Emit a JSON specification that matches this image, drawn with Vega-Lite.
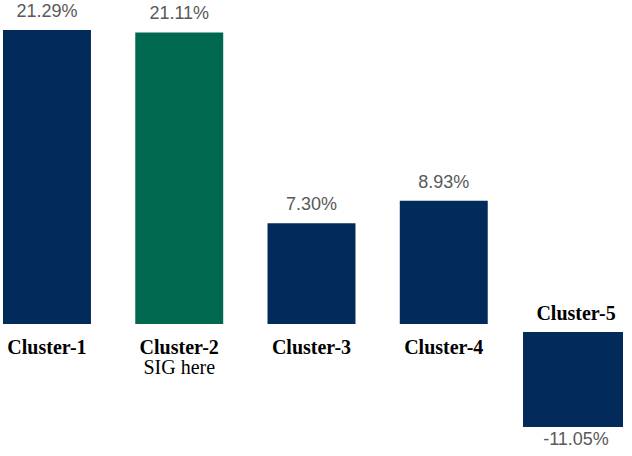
{
  "$schema": "https://vega.github.io/schema/vega-lite/v6.json",
  "width": 623,
  "height": 456,
  "autosize": "none",
  "padding": 0,
  "background": "white",
  "config": {"view": {"stroke": null}},
  "data": {
    "values": [
      {"cluster": "Cluster-1", "value": 21.29, "label": "21.29%", "note": ""},
      {"cluster": "Cluster-2", "value": 21.11, "label": "21.11%", "note": "SIG here"},
      {"cluster": "Cluster-3", "value": 7.30, "label": "7.30%", "note": ""},
      {"cluster": "Cluster-4", "value": 8.93, "label": "8.93%", "note": ""},
      {"cluster": "Cluster-5", "value": -11.05, "label": "-11.05%", "note": ""}
    ]
  },
  "encoding": {
    "x": {
      "field": "cluster",
      "type": "nominal",
      "sort": null,
      "axis": null,
      "scale": {"paddingInner": 0.335, "paddingOuter": 0.0227}
    },
    "y": {
      "field": "value",
      "type": "quantitative",
      "axis": null,
      "scale": {"domain": [-11.05, 0, 21.29], "range": [419, 324, 30], "nice": false}
    }
  },
  "layer": [
    {
      "transform": [{"filter": "datum.value >= 0"}],
      "mark": {"type": "bar"},
      "encoding": {
        "color": {
          "condition": {"test": "datum.cluster === 'Cluster-2'", "value": "#00684f"},
          "value": "#022b5c"
        }
      }
    },
    {
      "transform": [{"filter": "datum.value < 0"}],
      "mark": {"type": "bar", "width": 106, "yOffset": 8, "color": "#022b5c"}
    },
    {
      "transform": [{"filter": "datum.value >= 0"}],
      "mark": {"type": "text", "font": "Liberation Sans", "fontSize": 18, "color": "#595959", "baseline": "alphabetic", "dy": -13},
      "encoding": {"text": {"field": "label"}}
    },
    {
      "transform": [{"filter": "datum.value < 0"}],
      "mark": {"type": "text", "font": "Liberation Sans", "fontSize": 18, "color": "#595959", "baseline": "alphabetic", "yOffset": 8, "dy": 18},
      "encoding": {"text": {"field": "label"}}
    },
    {
      "transform": [{"filter": "datum.value >= 0"}],
      "mark": {"type": "text", "font": "Liberation Serif", "fontSize": 20, "fontWeight": "bold", "color": "black", "baseline": "alphabetic", "dy": 30},
      "encoding": {"y": {"datum": 0}, "text": {"field": "cluster"}}
    },
    {
      "transform": [{"filter": "datum.note != ''"}],
      "mark": {"type": "text", "font": "Liberation Serif", "fontSize": 20, "color": "black", "baseline": "alphabetic", "dy": 50},
      "encoding": {"y": {"datum": 0}, "text": {"field": "note"}}
    },
    {
      "transform": [{"filter": "datum.value < 0"}],
      "mark": {"type": "text", "font": "Liberation Serif", "fontSize": 20, "fontWeight": "bold", "color": "black", "baseline": "alphabetic", "dy": -4},
      "encoding": {"y": {"datum": 0}, "text": {"field": "cluster"}}
    }
  ]
}
